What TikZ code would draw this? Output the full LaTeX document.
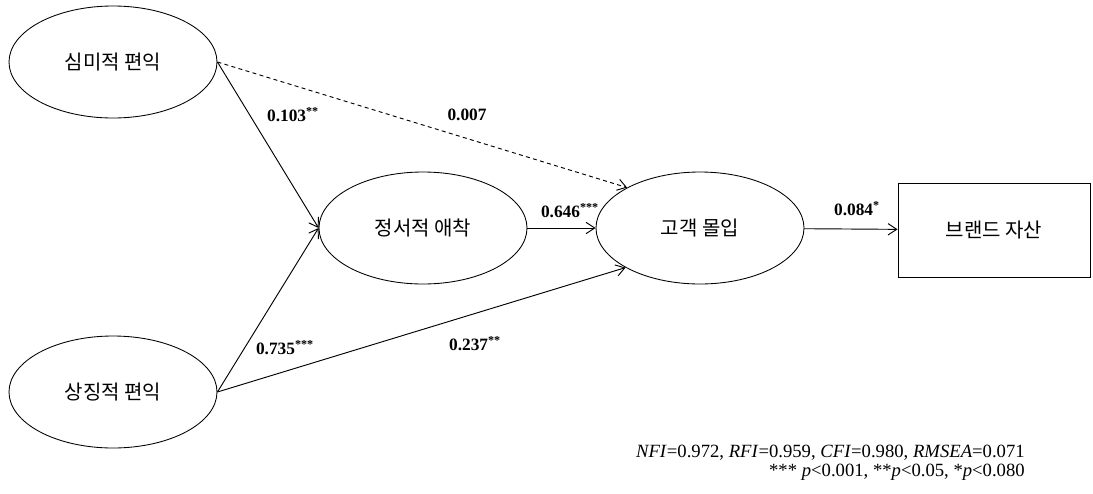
\documentclass[tikz,border=0pt]{standalone}
\usepackage{fontspec}
\setmainfont{Liberation Serif}
\newfontfamily\kr{Noto Sans CJK KR}
\usetikzlibrary{shapes.geometric,arrows.meta}

\begin{document}
\begin{tikzpicture}[x=0.75pt,y=-0.75pt,
	latent/.style={draw,ellipse,line width=0.65pt,minimum width=156pt,minimum height=84pt,inner sep=0pt,font=\kr\fontsize{15}{18}\selectfont},
	observed/.style={draw,rectangle,line width=0.65pt,minimum width=144pt,minimum height=70.5pt,font=\kr\fontsize{15}{18}\selectfont},
	effect/.style={-{Straight Barb[length=6.5pt,width=8.5pt]},line width=0.7pt},
	coef/.style={font=\bfseries\fontsize{13}{15}\selectfont,inner sep=1pt},
	note/.style={font=\fontsize{14}{16}\selectfont,inner sep=0pt}]

	\useasboundingbox (0,0) rectangle (1093,493);

	% constructs
	\node[latent] (aes) at (113,62) {심미적 편익};
	\node[latent] (sym) at (113,392) {상징적 편익};
	\node[latent] (att) at (423,228) {정서적 애착};
	\node[latent] (com) at (700,228) {고객 몰입};
	\node[observed] (bra) at (994,230) {브랜드 자산};

	% paths
	\draw[effect] (aes.east) -- (att.west);
	\draw[effect,dash pattern=on 3pt off 2.5pt] (aes.east) -- (com.151);
	\draw[effect] (sym.east) -- (att.west);
	\draw[effect] (sym.east) -- (com.208);
	\draw[effect] (att) -- (com);
	\draw[effect] (com) -- (bra);

	% coefficients
	\node[coef] (c1) at (293,115) {0.103\textsuperscript{**}};
	\node[coef] (c2) at (467,115) {0.007};
	\node[coef] (c3) at (570,211) {0.646\textsuperscript{***}};
	\node[coef] (c4) at (285,348) {0.735\textsuperscript{***}};
	\node[coef] (c5) at (475,344) {0.237\textsuperscript{**}};
	\node[coef] (c6) at (857,209) {0.084\textsuperscript{*}};

	% fit indices
	\node[note,anchor=base east] (fit) at (1025,457) {\textit{NFI}=0.972, \textit{RFI}=0.959, \textit{CFI}=0.980, \textit{RMSEA}=0.071};
	\node[note,anchor=base east] (sig) at (1025,476) {*** \textit{p}<0.001, **\textit{p}<0.05, *\textit{p}<0.080};

\end{tikzpicture}
\end{document}
